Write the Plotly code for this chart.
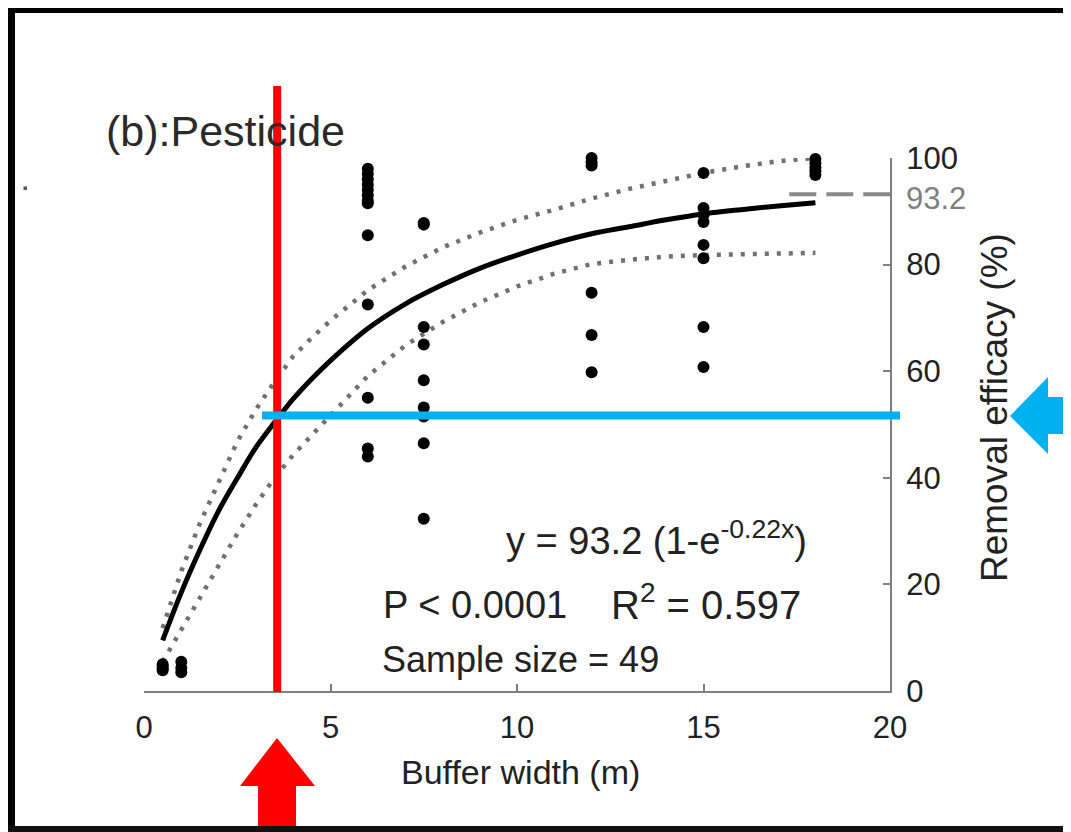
import plotly.graph_objects as go

# ---------------- data ----------------
pt_x = [0.5, 0.5, 0.5, 0.5,
        1.0, 1.0, 1.0,
        6, 6, 6, 6, 6, 6, 6, 6, 6, 6, 6, 6, 6,
        7.5, 7.5, 7.5, 7.5, 7.5, 7.5, 7.5, 7.5, 7.5,
        12, 12, 12, 12, 12, 12,
        15, 15, 15, 15, 15, 15, 15, 15,
        18, 18, 18, 18, 18, 18]
pt_y = [3.9, 4.2, 4.6, 5.0,
        3.5, 4.3, 5.5,
        98.0, 97.0, 96.0, 95.0, 94.0, 93.0, 92.0, 91.5, 85.5, 72.5, 55.0, 45.5, 44.0,
        87.8, 87.5, 68.3, 65.0, 58.3, 53.2, 51.5, 46.5, 32.3,
        100.0, 99.2, 98.6, 74.7, 66.8, 59.8,
        97.2, 90.6, 89.3, 88.0, 83.7, 81.2, 68.3, 60.8,
        100.5, 99.8, 99.0, 98.2, 97.5, 96.8]

curve_x = [0.5, 1, 1.5, 2, 2.5, 3, 3.5, 4, 4.5, 5, 6, 7, 8, 9, 10, 11, 12, 13, 14, 15, 16, 17, 18]
curve_y = [9.5, 18.5, 26.5, 33.8, 39.9, 45.7, 50.4, 54.8, 58.6, 62.0, 68.0, 72.6, 76.2, 79.3,
           81.8, 84.0, 85.8, 87.1, 88.4, 89.5, 90.3, 91.0, 91.6]

band_x = [0.5, 1.0, 1.5, 2.0, 2.5, 3.0, 3.5, 4.0, 4.5, 5, 6, 7, 7.5, 8, 9, 10, 11, 12, 13, 14, 15, 16, 17, 18]
upper_y = [11.8, 22.5, 31.5, 39.0, 46.8, 52.8, 58.0, 62.8, 66.3, 69.5, 75.2, 79.6, 81.4, 83.2,
           86.0, 88.4, 90.3, 92.4, 94.2, 95.8, 97.2, 98.4, 99.4, 100.0]
lower_y = [5.5, 11.5, 17.5, 23.6, 29.5, 35.0, 40.0, 44.3, 48.0, 51.5, 59.1, 64.8, 67.0, 69.2,
           72.9, 75.9, 78.3, 80.1, 80.9, 81.5, 81.8, 82.0, 82.1, 82.2]

asymptote = 93.2
asym_x_start = 17.3
red_x = 3.57          # buffer width marked by red line
blue_y = 51.7         # removal efficacy marked by blue line

x_ticks = [0, 5, 10, 15, 20]
y_ticks = [0, 20, 40, 60, 80, 100]

# ---------------- layout geometry (screen pixels of the page) ----------------
OFF = 8                     # default page body margin
W, H = 1071 - OFF, 832 - OFF
SL, SR, ST, SB = 144, 890, 158, 691   # plot area on screen
L, R, T, B = SL - OFF, SR - OFF, ST - OFF, SB - OFF


def px(xs):
    return (xs - SL) / (SR - SL)


def py(ys):
    return (SB - ys) / (SB - ST)


FONT = "Liberation Sans, Arial, Helvetica, sans-serif"
GRAY = "#808080"

fig = go.Figure()

for band in (upper_y, lower_y):
    fig.add_trace(go.Scatter(x=band_x, y=band, mode="lines",
                             line=dict(color="#707070", width=4.5, dash="4px,8px"),
                             hoverinfo="skip", cliponaxis=False))
fig.add_trace(go.Scatter(x=curve_x, y=curve_y, mode="lines",
                         line=dict(color="black", width=5, shape="spline"),
                         cliponaxis=False))
fig.add_trace(go.Scatter(x=pt_x, y=pt_y, mode="markers",
                         marker=dict(color="black", size=12),
                         cliponaxis=False))

shapes = []
# asymptote dashed line
shapes.append(dict(type="line", xref="x", yref="y", x0=asym_x_start, x1=20,
                   y0=asymptote, y1=asymptote,
                   line=dict(color="#8a8a8a", width=4, dash="27px,10px"), layer="below"))
# red vertical line
shapes.append(dict(type="line", xref="x", yref="paper", x0=red_x, x1=red_x,
                   y0=py(692), y1=py(86), line=dict(color="#ff0000", width=8)))
# blue horizontal line
shapes.append(dict(type="line", xref="paper", yref="y", x0=px(262), x1=px(900),
                   y0=blue_y, y1=blue_y, line=dict(color="#00b0f0", width=8)))

# blue arrow (pointing left)
blue_pts = [(1010, 416), (1048, 377), (1048, 397), (1080, 397), (1080, 434), (1048, 434), (1048, 454)]
path = "M " + " L ".join(f"{px(a):.5f},{py(b):.5f}" for a, b in blue_pts) + " Z"
shapes.append(dict(type="path", xref="paper", yref="paper", path=path,
                   fillcolor="#00b0f0", line=dict(width=0)))
# red arrow (pointing up)
red_pts = [(277, 738), (315, 786), (296, 786), (296, 840), (258, 840), (258, 786), (240, 786)]
path = "M " + " L ".join(f"{px(a):.5f},{py(b):.5f}" for a, b in red_pts) + " Z"
shapes.append(dict(type="path", xref="paper", yref="paper", path=path,
                   fillcolor="#ff0000", line=dict(width=0)))

# black frame (left, top, bottom)
shapes.append(dict(type="rect", xref="paper", yref="paper", x0=px(7), x1=px(15), y0=py(840), y1=py(5),
                   fillcolor="black", line=dict(width=0)))
shapes.append(dict(type="rect", xref="paper", yref="paper", x0=px(7), x1=px(1080), y0=py(13), y1=py(5),
                   fillcolor="black", line=dict(width=0)))
shapes.append(dict(type="rect", xref="paper", yref="paper", x0=px(7), x1=px(1080), y0=py(840), y1=py(826),
                   fillcolor="#111111", line=dict(width=0)))
# small stray mark
shapes.append(dict(type="rect", xref="paper", yref="paper", x0=px(23.5), x1=px(27), y0=py(190), y1=py(186.5),
                   fillcolor="#555555", line=dict(width=0)))

ann = []


def add_text(text, xc, yc, size, color="#222222", angle=0, xanchor="center"):
    ann.append(dict(text=text, xref="paper", yref="paper", x=px(xc), y=py(yc),
                    xanchor=xanchor, yanchor="middle", showarrow=False, textangle=angle,
                    font=dict(family=FONT, size=size, color=color)))


add_text("(b):Pesticide", 225, 131, 43, "#2a2a2a")
add_text("y = 93.2 (1-e<sup>-0.22x</sup>)", 656, 538, 38)
add_text("P &lt; 0.0001", 475, 605, 38)
add_text("R<sup>2</sup> = 0.597", 706, 602, 40)
add_text("Sample size = 49", 520, 659, 36)
add_text("Removal efficacy (%)", 994, 408, 37, angle=-90)
add_text("Buffer width (m)", 520, 772, 34)
add_text("93.2", 904, 199, 31, "#7f7f7f", xanchor="left")

fig.update_layout(
    width=W, height=H,
    margin=dict(l=L, r=W - R, t=T, b=H - B, pad=0),
    paper_bgcolor="white", plot_bgcolor="white",
    showlegend=False,
    shapes=shapes, annotations=ann,
    font=dict(family=FONT, color="#222222"),
    xaxis=dict(range=[0, 20], tickvals=x_ticks, ticks="inside", ticklen=7, tickwidth=2,
               tickcolor=GRAY, showline=True, linecolor=GRAY, linewidth=2, ticklabelstandoff=8,
               showgrid=False, zeroline=False, tickfont=dict(size=31, color="#222222")),
    yaxis=dict(range=[0, 100], tickvals=y_ticks, side="right", ticks="inside", ticklen=7,
               tickwidth=2, tickcolor=GRAY, showline=True, linecolor=GRAY, linewidth=2,
               ticklabelstandoff=8,
               showgrid=False, zeroline=False, tickfont=dict(size=31, color="#222222")),
)

fig.write_html("out.html")
